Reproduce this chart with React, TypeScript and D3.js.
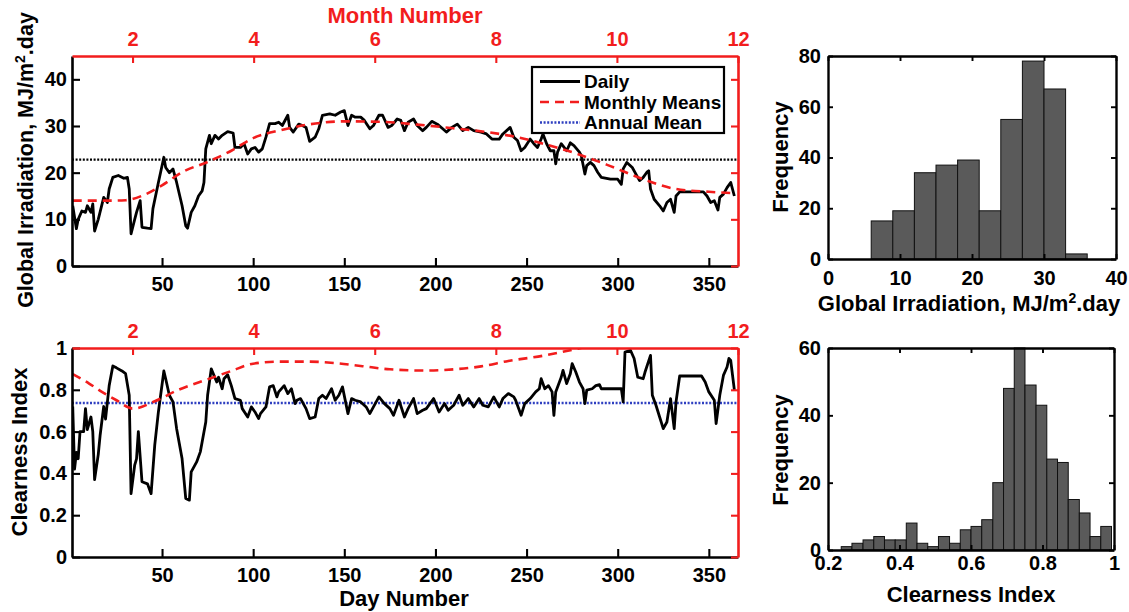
import React, { useRef, useEffect } from "react";
import * as d3 from "d3";

// daily global irradiation (day, MJ/m2.day)
const irrDaily: [number, number][] = [
  [1, 12.9], [3, 8], [4, 10], [6, 11.8], [8, 11.5], [9, 12.9], [11, 11.5], [12, 13.3], [13, 7.5], [15, 10],
  [18, 14.7], [20, 13.6], [21, 16.5], [23, 19], [26, 19.4], [29, 18.8], [31, 19], [32, 16.5], [33, 6.9], [35, 10],
  [36, 11.5], [38, 14], [39, 8.3], [42, 8.1], [44, 8], [45, 12.3], [48, 17.9], [51, 23.3], [52, 21.1], [54, 20],
  [56, 20.8], [58, 17.9], [61, 12.9], [63, 8.6], [64, 8.1], [66, 11.5], [68, 12.9], [70, 15], [72, 16.1], [73, 17.9],
  [74, 25.1], [76, 28], [77, 26.2], [79, 28], [81, 27.2], [83, 28], [86, 28.8], [89, 28.5], [90, 25.4], [93, 25.4],
  [95, 26.2], [97, 24], [99, 25.1], [101, 25.4], [103, 24.4], [105, 25.1], [107, 27.6], [109, 30.5], [112, 30.5], [114, 30.8],
  [116, 30.1], [119, 32.3], [120, 29.7], [122, 28.7], [125, 30.4], [127, 30.1], [129, 29.7], [131, 26.7], [134, 27.6], [136, 29.4],
  [138, 32.3], [142, 32.6], [145, 32.3], [148, 33], [150, 33.3], [152, 30.1], [154, 32.3], [156, 31.9], [159, 31.9], [161, 31.2],
  [164, 29.4], [166, 30.1], [169, 32.3], [171, 32.3], [174, 29.7], [176, 30.1], [179, 31.5], [181, 31.2], [183, 29], [185, 30.8],
  [188, 31.5], [190, 30.1], [193, 29], [195, 29.7], [198, 31], [201, 30.4], [204, 29.4], [206, 28.7], [209, 29.7], [212, 30.4],
  [215, 29], [218, 29.7], [221, 29], [225, 28.7], [228, 28.3], [231, 27.2], [235, 27.2], [237, 28.3], [241, 29.7], [243, 27.6],
  [245, 26.9], [247, 24.7], [249, 25.4], [252, 27.2], [254, 26.2], [256, 25.4], [258, 27.2], [259, 28.3], [261, 26.2], [263, 24.7],
  [265, 24.7], [266, 21.9], [267, 24.4], [269, 26.2], [272, 24.7], [274, 26.4], [276, 25.8], [279, 24.4], [280, 23.7], [282, 19.7],
  [283, 21.5], [285, 22.2], [287, 21.5], [289, 20.1], [291, 19], [296, 18.6], [300, 18.6], [302, 17.5], [303, 20.8], [305, 22.2],
  [308, 21.1], [310, 19.7], [312, 18.3], [314, 19], [316, 20.1], [317, 20.4], [318, 16.5], [320, 14.3], [323, 12.9], [325, 11.8],
  [327, 13.6], [329, 14.3], [331, 11.5], [332, 15], [334, 15.9], [340, 15.9], [347, 15.9], [349, 15], [351, 13.6], [353, 14],
  [355, 12], [356, 14.7], [358, 15.4], [360, 16.8], [362, 17.9], [364, 15],
];

const irrMonthly: [number, number][] = [
  [1, 14], [20, 14], [30, 14.1], [40, 15.2], [50, 17.3], [62, 20.3], [75, 22.3], [88, 24.7], [100, 27.4], [115, 29.1],
  [130, 30.3], [150, 31], [170, 30.9], [190, 30.3], [210, 29.5], [230, 28.6], [245, 27.6], [260, 26.1], [278, 24], [296, 21.4],
  [314, 18.6], [332, 16.5], [350, 15.9], [365, 15.6],
];
const irrAnnual = 22.8;

// daily clearness index
const ktDaily: [number, number][] = [
  [1, 0.72], [2, 0.42], [3, 0.5], [4, 0.47], [5, 0.6], [7, 0.6], [8, 0.71], [9, 0.61], [11, 0.67], [12, 0.6],
  [13, 0.37], [15, 0.49], [16, 0.58], [18, 0.72], [19, 0.66], [21, 0.82], [23, 0.914], [25, 0.905], [28, 0.89], [30, 0.877],
  [32, 0.774], [33, 0.303], [35, 0.44], [36, 0.47], [37, 0.6], [39, 0.36], [42, 0.35], [44, 0.303], [46, 0.535], [48, 0.694],
  [51, 0.89], [52, 0.853], [54, 0.774], [56, 0.742], [58, 0.614], [61, 0.47], [63, 0.28], [65, 0.272], [66, 0.407], [69, 0.455],
  [71, 0.503], [72, 0.55], [74, 0.646], [75, 0.774], [77, 0.9], [80, 0.837], [81, 0.86], [83, 0.805], [84, 0.853], [86, 0.872],
  [88, 0.82], [90, 0.758], [93, 0.75], [94, 0.71], [97, 0.67], [99, 0.718], [101, 0.694], [103, 0.662], [104, 0.686], [107, 0.718],
  [109, 0.814], [111, 0.82], [113, 0.766], [114, 0.79], [117, 0.82], [119, 0.782], [121, 0.805], [123, 0.734], [124, 0.75], [126, 0.758],
  [129, 0.71], [131, 0.662], [134, 0.67], [136, 0.758], [138, 0.774], [140, 0.758], [143, 0.805], [145, 0.75], [147, 0.774], [149, 0.814],
  [152, 0.686], [154, 0.758], [156, 0.75], [159, 0.742], [162, 0.718], [164, 0.686], [166, 0.718], [169, 0.766], [172, 0.734], [175, 0.71],
  [177, 0.678], [180, 0.75], [183, 0.67], [185, 0.71], [188, 0.758], [190, 0.686], [193, 0.702], [195, 0.71], [199, 0.758], [202, 0.694],
  [205, 0.734], [207, 0.702], [210, 0.726], [213, 0.774], [215, 0.726], [218, 0.758], [221, 0.718], [224, 0.758], [226, 0.726], [229, 0.718],
  [232, 0.766], [235, 0.718], [237, 0.758], [240, 0.782], [243, 0.766], [244, 0.75], [247, 0.678], [249, 0.734], [252, 0.758], [255, 0.79],
  [257, 0.805], [258, 0.853], [260, 0.805], [262, 0.82], [264, 0.79], [265, 0.678], [266, 0.79], [269, 0.86], [270, 0.893], [272, 0.83],
  [274, 0.877], [275, 0.925], [277, 0.885], [279, 0.837], [281, 0.805], [282, 0.734], [283, 0.798], [286, 0.805], [288, 0.82], [290, 0.825],
  [291, 0.805], [302, 0.805], [303, 0.742], [304, 0.981], [307, 0.989], [309, 0.95], [311, 0.86], [314, 0.853], [315, 0.885], [318, 0.965],
  [319, 0.774], [321, 0.726], [323, 0.67], [325, 0.614], [327, 0.646], [329, 0.758], [331, 0.614], [332, 0.742], [334, 0.866], [346, 0.866],
  [348, 0.837], [350, 0.79], [353, 0.75], [354, 0.638], [356, 0.774], [358, 0.869], [360, 0.909], [361, 0.95], [362, 0.94], [364, 0.8],
];

const ktMonthly: [number, number][] = [
  [1, 0.875], [10, 0.83], [17, 0.79], [25, 0.75], [34, 0.71], [46, 0.745], [59, 0.8], [75, 0.85], [88, 0.89], [100, 0.925],
  [115, 0.935], [130, 0.935], [145, 0.928], [160, 0.913], [175, 0.898], [195, 0.892], [210, 0.898], [225, 0.912], [240, 0.938], [259, 0.963],
  [278, 0.997], [295, 1.03], [315, 1.06], [340, 1.07], [365, 1.06],
];
const ktAnnual = 0.737;

// histograms
const irrBinEdges = [6, 9, 12, 15, 18, 21, 24, 27, 30, 33, 36];
const irrCounts = [15, 19, 34, 37, 39, 19, 55, 78, 67, 2];
const ktBinEdges = [
  0.237, 0.267, 0.298, 0.328, 0.358, 0.388, 0.419, 0.449, 0.479, 0.509, 0.54, 0.57, 0.6,
  0.63, 0.661, 0.691, 0.721, 0.751, 0.782, 0.812, 0.842, 0.872, 0.903, 0.933, 0.963, 0.993,
];
const ktCounts = [1, 2, 3, 4, 3, 3, 8, 2, 1, 4, 2, 6, 7, 9, 20, 48, 60, 49, 43, 27, 26, 15, 11, 4, 7];

// ticks
const monthTicks = [2, 4, 6, 8, 10, 12];
const dayTicks = [50, 100, 150, 200, 250, 300, 350];
const irrTicks = [0, 10, 20, 30, 40];
const ktTicks = [0, 0.2, 0.4, 0.6, 0.8, 1];
const irrHistXTicks = [0, 10, 20, 30, 40];
const irrHistYTicks = [0, 20, 40, 60, 80];
const ktHistXTicks = [0.2, 0.4, 0.6, 0.8, 1];
const ktHistYTicks = [0, 20, 40, 60];

const legendLabels = ["Daily", "Monthly Means", "Annual Mean"];

const FONT = "'Liberation Sans', Arial, Helvetica, sans-serif";
const RED = "#f21d1d";
const BLUE = "#2e3fc0";
const W = 1129;
const H = 612;
const TICK_FONT = 20;
const TITLE_FONT = 22;

function styleAxis(g, color, width) {
  g.attr("font-family", FONT)
    .attr("font-size", TICK_FONT)
    .attr("font-weight", "bold")
    .style("color", color);
  g.select(".domain").attr("stroke-width", width);
  g.selectAll(".tick line").attr("stroke-width", width * 0.8);
}

function drawSeriesPanel(svg, p) {
  const x = d3.scaleLinear().domain([0.6, 366]).range([p.x0, p.x1]);
  const xm = d3.scaleLinear().domain([1, 12]).range([p.x0, p.x1]);
  const y = d3.scaleLinear().domain(p.yDomain).range([p.y1, p.y0]);

  const clipId = `clip-${p.id}`;
  svg.append("clipPath").attr("id", clipId)
    .append("rect")
    .attr("x", p.x0).attr("y", p.y0)
    .attr("width", p.x1 - p.x0).attr("height", p.y1 - p.y0);

  const plot = svg.append("g").attr("clip-path", `url(#${clipId})`);

  plot.append("line")
    .attr("x1", p.x0).attr("x2", p.x1)
    .attr("y1", y(p.annual)).attr("y2", y(p.annual))
    .attr("stroke", p.annualColor)
    .attr("stroke-width", 2.4)
    .attr("stroke-dasharray", "2,1.6");

  const line = d3.line()
    .x(d => x(d[0]))
    .y(d => y(d[1]));

  plot.append("path")
    .datum(p.daily)
    .attr("fill", "none")
    .attr("stroke", "#000")
    .attr("stroke-width", 2.8)
    .attr("stroke-linejoin", "round")
    .attr("d", line);

  plot.append("path")
    .datum(p.monthly)
    .attr("fill", "none")
    .attr("stroke", RED)
    .attr("stroke-width", 2.6)
    .attr("stroke-dasharray", "9,6")
    .attr("d", line.curve(d3.curveMonotoneX));

  // left and bottom (black)
  svg.append("g")
    .attr("transform", `translate(${p.x0},0)`)
    .call(d3.axisLeft(y).tickValues(p.yTicks).tickSize(-8).tickSizeOuter(0).tickPadding(5).tickFormat(d3.format("")))
    .call(g => styleAxis(g, "#000", 2.6));

  svg.append("g")
    .attr("transform", `translate(0,${p.y1})`)
    .call(d3.axisBottom(x).tickValues(dayTicks).tickSize(-8).tickSizeOuter(0).tickPadding(11))
    .call(g => styleAxis(g, "#000", 2.6));

  // top and right (red)
  svg.append("g")
    .attr("transform", `translate(0,${p.y0})`)
    .call(d3.axisTop(xm).tickValues(monthTicks).tickSize(-7).tickSizeOuter(0).tickPadding(p.monthPad))
    .call(g => styleAxis(g, RED, 2.6));

  svg.append("g")
    .attr("transform", `translate(${p.x1},0)`)
    .call(d3.axisRight(y).tickValues(p.yTicks).tickSize(-7).tickSizeOuter(0).tickFormat(() => ""))
    .call(g => styleAxis(g, RED, 2.6));
}

function drawHistogram(svg, p) {
  const x = d3.scaleLinear().domain(p.xDomain).range([p.x0, p.x1]);
  const y = d3.scaleLinear().domain(p.yDomain).range([p.y1, p.y0]);

  svg.append("g")
    .selectAll("rect")
    .data(p.counts)
    .enter()
    .append("rect")
    .attr("x", (d, i) => x(p.edges[i]))
    .attr("width", (d, i) => x(p.edges[i + 1]) - x(p.edges[i]))
    .attr("y", d => y(d))
    .attr("height", d => y(0) - y(d))
    .attr("fill", "#5a5a5a")
    .attr("stroke", "#111")
    .attr("stroke-width", 1);

  svg.append("g")
    .attr("transform", `translate(0,${p.y1})`)
    .call(d3.axisBottom(x).tickValues(p.xTicks).tickSize(-5).tickSizeOuter(0).tickPadding(p.xPad).tickFormat(d3.format("")))
    .call(g => styleAxis(g, "#000", 2.4));
  svg.append("g")
    .attr("transform", `translate(0,${p.y0})`)
    .call(d3.axisTop(x).tickValues(p.xTicks).tickSize(-5).tickSizeOuter(0).tickFormat(() => ""))
    .call(g => styleAxis(g, "#000", 2.4));
  svg.append("g")
    .attr("transform", `translate(${p.x0},0)`)
    .call(d3.axisLeft(y).tickValues(p.yTicks).tickSize(-5).tickSizeOuter(0).tickPadding(7))
    .call(g => styleAxis(g, "#000", 2.4));
  svg.append("g")
    .attr("transform", `translate(${p.x1},0)`)
    .call(d3.axisRight(y).tickValues(p.yTicks).tickSize(-5).tickSizeOuter(0).tickFormat(() => ""))
    .call(g => styleAxis(g, "#000", 2.4));
}

function addText(svg, txt, opts) {
  const t = svg.append("text")
    .attr("transform", opts.rotate ? `translate(${opts.x},${opts.y}) rotate(-90)` : `translate(${opts.x},${opts.y})`)
    .attr("text-anchor", "middle")
    .attr("font-family", FONT)
    .attr("font-weight", "bold")
    .attr("font-size", opts.size || TITLE_FONT)
    .attr("fill", opts.color || "#000");
  if (opts.sup) {
    const [a, b] = txt.split("^2");
    t.append("tspan").text(a);
    t.append("tspan").attr("dy", -8).attr("font-size", 14).text("2");
    t.append("tspan").attr("dy", 8).text(b);
  } else {
    t.text(txt);
  }
  return t;
}

const App = () => {
  const ref = useRef(null);

  useEffect(() => {
    const svg = d3.select(ref.current);
    svg.selectAll("*").remove();
    svg.attr("width", W).attr("height", H).style("background", "#fff");

    drawSeriesPanel(svg, {
      id: "irr", x0: 72, x1: 738, y0: 56, y1: 266,
      yDomain: [0, 45], yTicks: irrTicks,
      daily: irrDaily, monthly: irrMonthly, annual: irrAnnual, annualColor: "#000",
      monthPad: 10,
    });
    drawSeriesPanel(svg, {
      id: "kt", x0: 72, x1: 738, y0: 348, y1: 557,
      yDomain: [0, 1], yTicks: ktTicks,
      daily: ktDaily, monthly: ktMonthly, annual: ktAnnual, annualColor: BLUE,
      monthPad: 10,
    });

    // legend
    const lg = svg.append("g");
    lg.append("rect")
      .attr("x", 532).attr("y", 67).attr("width", 192).attr("height", 66)
      .attr("fill", "#fff").attr("stroke", "#000").attr("stroke-width", 2.2);
    const styles = [
      { color: "#000", dash: null, w: 2.8 },
      { color: RED, dash: "9,6", w: 2.6 },
      { color: BLUE, dash: "2,1.6", w: 2.4 },
    ];
    legendLabels.forEach((label, i) => {
      const cy = 81.5 + i * 20.5;
      lg.append("line")
        .attr("x1", 540).attr("x2", 580).attr("y1", cy).attr("y2", cy)
        .attr("stroke", styles[i].color).attr("stroke-width", styles[i].w)
        .attr("stroke-dasharray", styles[i].dash);
      lg.append("text")
        .attr("x", 584).attr("y", cy + 6.5)
        .attr("font-family", FONT).attr("font-weight", "bold").attr("font-size", 19)
        .text(label);
    });

    drawHistogram(svg, {
      x0: 828, x1: 1116, y0: 56, y1: 259,
      xDomain: [0, 40], yDomain: [0, 80],
      edges: irrBinEdges, counts: irrCounts,
      xTicks: irrHistXTicks, yTicks: irrHistYTicks, xPad: 12,
    });
    drawHistogram(svg, {
      x0: 828, x1: 1114, y0: 348, y1: 550,
      xDomain: [0.2, 1], yDomain: [0, 60],
      edges: ktBinEdges, counts: ktCounts,
      xTicks: ktHistXTicks, yTicks: ktHistYTicks, xPad: 6,
    });

    // titles
    addText(svg, "Month Number", { x: 405, y: 23, color: RED });
    addText(svg, "Global Irradiation, MJ/m^2.day", { x: 33, y: 160, rotate: true, sup: true, size: 21.5 });
    addText(svg, "Clearness Index", { x: 27, y: 452, rotate: true });
    addText(svg, "Day Number", { x: 404, y: 606 });
    addText(svg, "Frequency", { x: 788, y: 157, rotate: true });
    addText(svg, "Frequency", { x: 788, y: 450, rotate: true });
    addText(svg, "Global Irradiation, MJ/m^2.day", { x: 969, y: 311, sup: true });
    addText(svg, "Clearness Index", { x: 971, y: 602 });
  }, []);

  return (
    <div style={{ position: "absolute", left: 0, top: 0 }}>
      <svg ref={ref}></svg>
    </div>
  );
};

export default App;
